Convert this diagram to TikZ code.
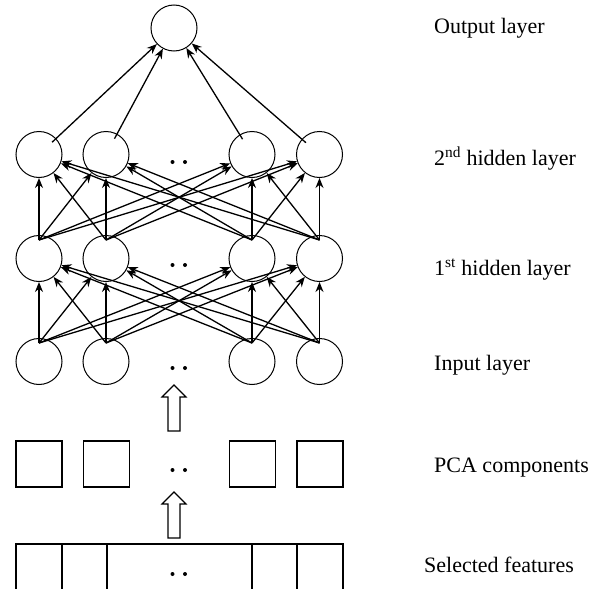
\documentclass[tikz,border=0pt]{standalone}
\usepackage{fontspec}
\setmainfont{Liberation Serif}
\usetikzlibrary{arrows.meta,calc}
\begin{document}
\begin{tikzpicture}[x=1pt,y=-1pt,
 neuron/.style={circle,draw,line width=1pt,minimum size=46pt,inner sep=0pt},
 pcabox/.style={rectangle,draw,line width=1.1pt,minimum size=46pt,inner sep=0pt},
 conn/.style={line width=1.3pt,-{Stealth[length=10pt,width=8pt]}},
 lbl/.style={anchor=base west,inner sep=0pt,font=\fontsize{22}{26}\selectfont},
 dotnode/.style={circle,fill,inner sep=0pt,minimum size=4pt},
 blockarrow/.style={draw,line width=1.1pt,fill=white,line join=miter}]
\useasboundingbox (0,0) rectangle (595,589);

% output
\node[neuron] (o) at (174,28) {};
% hidden 2
\node[neuron] (h2a) at (39,154.5) {};
\node[neuron] (h2b) at (106,154.5) {};
\node[neuron] (h2c) at (252,154.5) {};
\node[neuron] (h2d) at (319.5,154.5) {};
% hidden 1
\node[neuron] (h1a) at (39,258.5) {};
\node[neuron] (h1b) at (106,258.5) {};
\node[neuron] (h1c) at (252,258.5) {};
\node[neuron] (h1d) at (319.5,258.5) {};
% input
\node[neuron] (ia) at (39,361.5) {};
\node[neuron] (ib) at (106,361.5) {};
\node[neuron] (ic) at (252,361.5) {};
\node[neuron] (id) at (319.5,361.5) {};
% PCA
\node[pcabox] (pa) at (39,464) {};
\node[pcabox] (pb) at (106.5,464) {};
\node[pcabox] (pc) at (252.5,464) {};
\node[pcabox] (pd) at (320,464) {};

% dots
\foreach \n/\y in {h2/162,h1/265,in/368,pc/470,sf/574}{
  \node[dotnode] (d\n1) at (172.5,\y) {};
  \node[dotnode] (d\n2) at (185,\y) {};
}

% connections
\foreach \s in {a,b,c,d}{
  \foreach \t in {a,b,c,d}{
    \draw[conn] ([yshift=-5pt]i\s.north) -- (h1\t);
    \draw[conn] ([yshift=-5pt]h1\s.north) -- (h2\t);
  }
  \draw[conn] ($(h2\s)!18pt!(o)$) -- (o);
}

% block arrows
\draw[blockarrow] (168,431) -- (168,397) -- (162,397) -- (174,385) -- (186,397) -- (180,397) -- (180,431) -- cycle;
\draw[blockarrow] (168,538) -- (168,504) -- (162,504) -- (174,492) -- (186,504) -- (180,504) -- (180,538) -- cycle;

% selected features strip
\draw[line width=1.1pt] (16,590) -- (16,544) -- (343,544) -- (343,590);
\foreach \x in {62,107,252,297}{
  \draw[line width=1.1pt] (\x,544) -- (\x,590);
}

% labels
\node[lbl] (lout) at (434,34) {Output layer};
\node[lbl] (lh2) at (434,165) {2\textsuperscript{nd} hidden layer};
\node[lbl] (lh1) at (434,275) {1\textsuperscript{st} hidden layer};
\node[lbl] (lin) at (434,370) {Input layer};
\node[lbl] (lpca) at (434,472) {PCA components};
\node[lbl] (lsel) at (424,572) {Selected features};
\end{tikzpicture}
\end{document}
